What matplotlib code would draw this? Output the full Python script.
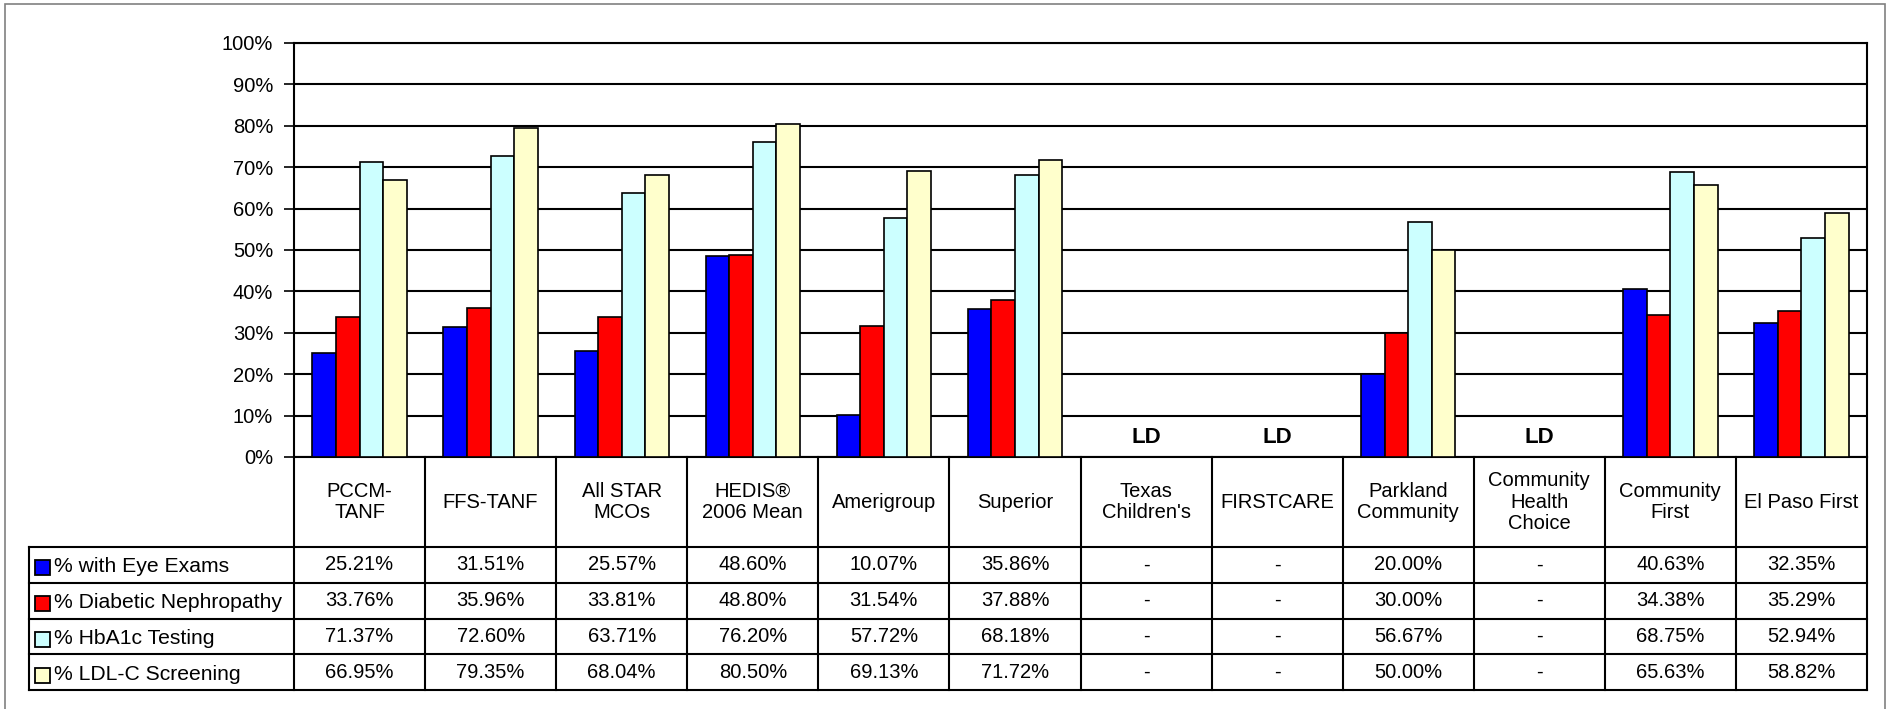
import numpy as np
import matplotlib
matplotlib.use("Agg")
import matplotlib.pyplot as plt
from matplotlib.patches import Rectangle
from matplotlib.transforms import IdentityTransform
from matplotlib.ticker import PercentFormatter, MultipleLocator

plt.rcParams['font.family'] = ['Liberation Sans', 'DejaVu Sans']

categories = ["PCCM-\nTANF", "FFS-TANF", "All STAR\nMCOs", "HEDIS\u00ae\n2006 Mean",
              "Amerigroup", "Superior", "Texas\nChildren's", "FIRSTCARE",
              "Parkland\nCommunity", "Community\nHealth\nChoice", "Community\nFirst",
              "El Paso First"]

series_names = ["% with Eye Exams", "% Diabetic Nephropathy",
                "% HbA1c Testing", "% LDL-C Screening"]

nan = np.nan
eye_exams = [25.21, 31.51, 25.57, 48.60, 10.07, 35.86, nan, nan, 20.00, nan, 40.63, 32.35]
nephropathy = [33.76, 35.96, 33.81, 48.80, 31.54, 37.88, nan, nan, 30.00, nan, 34.38, 35.29]
hba1c = [71.37, 72.60, 63.71, 76.20, 57.72, 68.18, nan, nan, 56.67, nan, 68.75, 52.94]
ldl_screening = [66.95, 79.35, 68.04, 80.50, 69.13, 71.72, nan, nan, 50.00, nan, 65.63, 58.82]

series_colors = ["#0000FF", "#FF0000", "#CCFFFF", "#FFFFCC"]
low_denominator_label = "LD"

series = [eye_exams, nephropathy, hba1c, ldl_screening]

W, H = 1887, 709
fig = plt.figure(figsize=(W / 100, H / 100), dpi=100)

# pixel layout of the plot area and the data table below it
px_left, px_right = 294, 1867
px_top, px_zero = 43, 457
tbl_left, tbl_bottom = 29, 690
hdr_bottom = 547

ax = fig.add_axes([px_left / W, 1 - px_zero / H,
                   (px_right - px_left) / W, (px_zero - px_top) / H])

n = len(categories)
x = np.arange(n)
bar_w = 0.18
offsets = (np.arange(4) - 1.5) * bar_w

for vals, col, off in zip(series, series_colors, offsets):
    v = np.array(vals, dtype=float) / 100.0
    ax.bar(x + off, v, width=bar_w, color=col, edgecolor="black",
           linewidth=1.2, zorder=3)

ax.set_xlim(-0.5, n - 0.5)
ax.set_ylim(0, 1)
ax.yaxis.set_major_locator(MultipleLocator(0.1))
ax.yaxis.set_major_formatter(PercentFormatter(1.0, decimals=0))
ax.grid(axis="y", color="black", linewidth=1.5, zorder=1)
ax.set_xticks([])
ax.tick_params(axis="y", direction="out", length=7, width=1.2,
               labelsize=14.5, pad=8)
for s in ax.spines.values():
    s.set_linewidth(1.5)
    s.set_color("black")

# categories without reportable rates
for i in range(n):
    if all(np.isnan(s[i]) for s in series):
        ax.text(i, 0.046, low_denominator_label, ha="center", va="center",
                fontsize=16, fontweight="bold", zorder=4)

# data table
tax = fig.add_axes([tbl_left / W, 1 - tbl_bottom / H,
                    (px_right - tbl_left) / W, (tbl_bottom - px_zero) / H])
tax.set_xlim(tbl_left, px_right)
tax.set_ylim(tbl_bottom, px_zero)
tax.axis("off")

col_w = (px_right - px_left) / n
row_h = (tbl_bottom - hdr_bottom) / 4
row_edges = [hdr_bottom + k * row_h for k in range(5)]
lw = 1.5

for i in range(n + 1):
    xx = px_left + i * col_w
    tax.plot([xx, xx], [px_zero, tbl_bottom], color="black", lw=lw,
             solid_capstyle="projecting", clip_on=False)
tax.plot([tbl_left, tbl_left], [hdr_bottom, tbl_bottom], color="black", lw=lw,
         solid_capstyle="projecting", clip_on=False)
for yy in row_edges:
    tax.plot([tbl_left, px_right], [yy, yy], color="black", lw=lw,
             solid_capstyle="projecting", clip_on=False)

for i, cat in enumerate(categories):
    cx = px_left + (i + 0.5) * col_w
    tax.text(cx, (px_zero + hdr_bottom) / 2, cat, ha="center", va="center",
             fontsize=14.5, multialignment="center", linespacing=1.15)

for r, (name, vals, col) in enumerate(zip(series_names, series, series_colors)):
    cy = (row_edges[r] + row_edges[r + 1]) / 2
    tax.add_patch(Rectangle((35, cy - 4.5), 15, 15, facecolor=col,
                            edgecolor="black", lw=1.3, clip_on=False))
    tax.text(54, cy + 2, name, ha="left", va="center", fontsize=15.2)
    for i, v in enumerate(vals):
        cx = px_left + (i + 0.5) * col_w
        txt = "-" if np.isnan(v) else f"{v:.2f}%"
        tax.text(cx, cy, txt, ha="center", va="center", fontsize=14.5)

# outer chart border
fig.add_artist(Rectangle((5, -10), 1880, 705 + 10, transform=IdentityTransform(),
                         fill=False, edgecolor="#808080", lw=1.2))

fig.savefig("out.png", dpi=100, facecolor="white")
